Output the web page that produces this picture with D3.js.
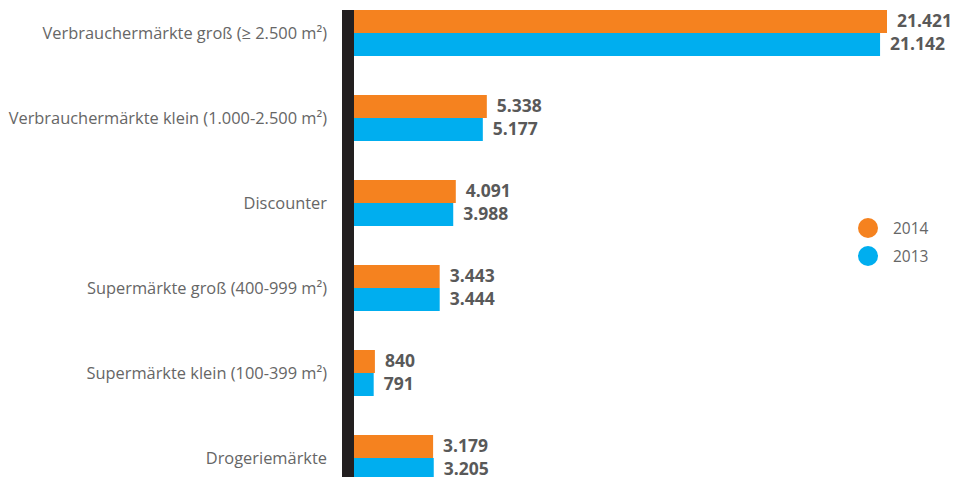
<!DOCTYPE html>
<html>
<head>
<meta charset="utf-8">
<script src="https://cdn.jsdelivr.net/npm/d3@7"></script>
<style>
    body { margin: 0; background: #fff; }
    svg { display: block; }
</style>
</head>
<body>
<script>
const categories = [
    "Verbrauchermärkte groß (≥ 2.500 m²)",
    "Verbrauchermärkte klein (1.000-2.500 m²)",
    "Discounter",
    "Supermärkte groß (400-999 m²)",
    "Supermärkte klein (100-399 m²)",
    "Drogeriemärkte",
];
const seriesNames = ["2014", "2013"];
const values2014 = [21421, 5338, 4091, 3443, 840, 3179];
const values2013 = [21142, 5177, 3988, 3444, 791, 3205];
const seriesColors = ["#F5821F", "#00AEEF"];

const width = 956;
const height = 477;
const axisX = 342;
const barStart = 354;

const de = d3.formatLocale({ decimal: ",", thousands: ".", grouping: [3], currency: ["", " €"] });
const fmt = de.format(",d");

const svg = d3.select("body").append("svg")
    .attr("width", width)
    .attr("height", height);

// echelles
const y = d3.scaleBand()
    .domain(categories)
    .range([10, 481])
    .paddingInner(39 / 85)
    .paddingOuter(0);

const ySeries = d3.scaleBand()
    .domain(seriesNames)
    .range([0, y.bandwidth()]);

const x = d3.scaleLinear()
    .domain([0, 21421])
    .range([barStart, 887]);

const color = d3.scaleOrdinal().domain(seriesNames).range(seriesColors);

const rows = categories.map((c, i) => ({
    category: c,
    values: [
        { key: "2014", value: values2014[i] },
        { key: "2013", value: values2013[i] },
    ],
}));

// libelles des categories
svg.append("g")
    .selectAll("text")
    .data(categories)
    .join("text")
    .attr("x", 327)
    .attr("y", (d) => y(d) + y.bandwidth() / 2)
    .attr("dy", "0.36em")
    .attr("text-anchor", "end")
    .attr("fill", "#666666")
    .style("font-family", "'Open Sans', sans-serif")
    .style("font-size", "16.4px")
    .text((d) => d);

// barres
const groups = svg.append("g")
    .selectAll("g")
    .data(rows)
    .join("g")
    .attr("transform", (d) => `translate(0,${y(d.category)})`);

groups.selectAll("rect")
    .data((d) => d.values)
    .join("rect")
    .attr("x", x(0))
    .attr("y", (d) => ySeries(d.key))
    .attr("width", (d) => x(d.value) - x(0))
    .attr("height", ySeries.bandwidth())
    .attr("fill", (d) => color(d.key));

groups.selectAll("text")
    .data((d) => d.values)
    .join("text")
    .attr("x", (d) => x(d.value) + 10)
    .attr("y", (d) => ySeries(d.key) + ySeries.bandwidth() / 2)
    .attr("dy", "0.34em")
    .attr("fill", "#595959")
    .style("font-family", "'Open Sans', sans-serif")
    .style("font-size", "17.5px")
    .style("font-weight", "bold")
    .text((d) => fmt(d.value));

// axe vertical (barre noire)
svg.append("rect")
    .attr("x", axisX)
    .attr("y", 10)
    .attr("width", barStart - axisX)
    .attr("height", height - 10)
    .attr("fill", "#231F20");

// legende
const legend = svg.append("g")
    .selectAll("g")
    .data(seriesNames)
    .join("g")
    .attr("transform", (d, i) => `translate(868,${228 + i * 28})`);

legend.append("circle")
    .attr("r", 10)
    .attr("fill", (d) => color(d));

legend.append("text")
    .attr("x", 25)
    .attr("dy", "0.36em")
    .attr("fill", "#666666")
    .style("font-family", "'Open Sans', sans-serif")
    .style("font-size", "15.5px")
    .text((d) => d);
</script>
</body>
</html>
